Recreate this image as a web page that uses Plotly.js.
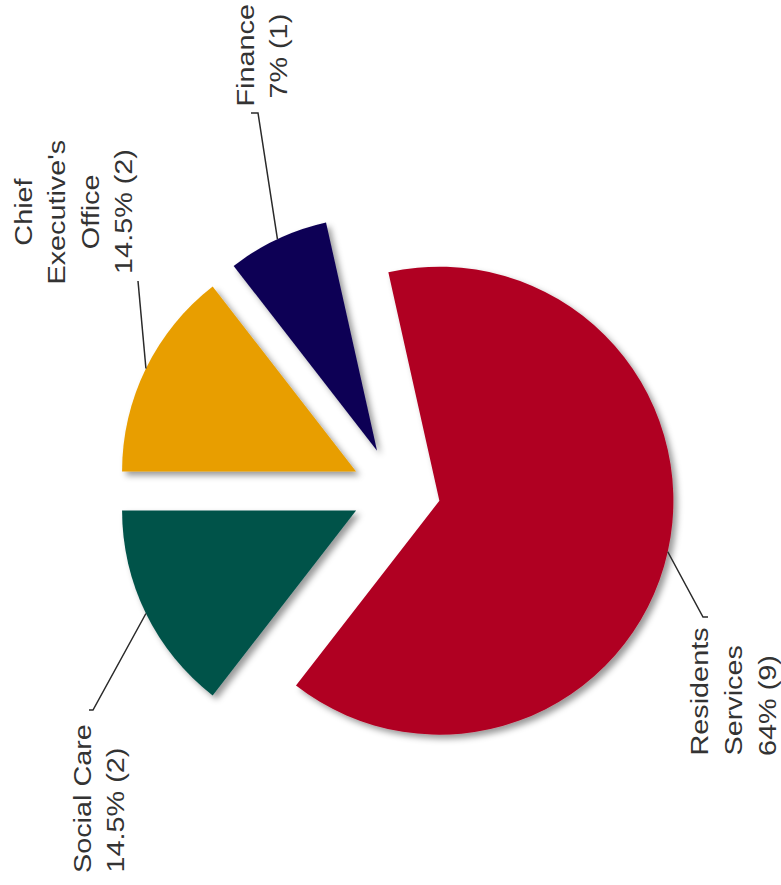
<!DOCTYPE html>
<html><head><meta charset="utf-8">
<script src="https://cdn.plot.ly/plotly-3.0.1.min.js"></script>
<style>html,body{margin:0;padding:0;background:#fff}#chart{width:781px;height:885px}</style>
</head><body><div id="chart"></div>
<script>
// ---- data ----
const categories = ['Residents<br>Services', 'Social Care', "Chief<br>Executive's<br>Office", 'Finance'];
const shareValues = [64, 14.5, 14.5, 7];
const shareLabels = ['64%', '14.5%', '14.5%', '7%'];
const counts = [9, 2, 2, 1];
const sliceColors = ['#B00024', '#00524A', '#E89E00', '#0F0055'];

// ---- layout settings ----
const W = 781, H = 885;
const pieGeom = {cx: 396, cy: 491, r: 234, pull: 0.19, rotation: -12.6};
const labelPlacement = [
  {x: 700, y: 758, anchor: 'bottom', elbow: [703, 617], end: [708, 617]},
  {x: 82,  y: 875, anchor: 'bottom', elbow: [93, 710],  end: [89, 710]},
  {x: 23,  y: 212, anchor: 'middle', elbow: [138, 281], end: [138, 281]},
  {x: 245, y: 56,  anchor: 'middle', elbow: [258, 113], end: [251, 113]}
];
const labelFont = {family: '"Liberation Sans", Arial, sans-serif', size: 24, color: '#333333'};
const lineGap = 33.5, stretch = 1.2;

const px = (x) => x / W, py = (y) => 1 - y / H;
const half = pieGeom.r * (1 + pieGeom.pull);

const trace = {
  type: 'pie',
  labels: categories,
  values: shareValues,
  sort: false,
  direction: 'clockwise',
  rotation: pieGeom.rotation,
  pull: shareValues.map(() => pieGeom.pull),
  marker: {colors: sliceColors, line: {width: 0}},
  textinfo: 'none',
  hoverinfo: 'none',
  domain: {
    x: [(pieGeom.cx - half) / W, (pieGeom.cx + half) / W],
    y: [(H - pieGeom.cy - half) / H, (H - pieGeom.cy + half) / H]
  }
};

// leader lines from slice mid-angle arc points
const total = shareValues.reduce((a, b) => a + b, 0);
let cum = 0;
const shapes = [];
const annotations = [];
const annMeta = [];
shareValues.forEach((v, i) => {
  const mid = (pieGeom.rotation + (cum + v / 2) / total * 360) * Math.PI / 180;
  cum += v;
  const dx = Math.sin(mid), dy = -Math.cos(mid);
  const ax = pieGeom.cx + (1 + pieGeom.pull) * pieGeom.r * dx;
  const ay = pieGeom.cy + (1 + pieGeom.pull) * pieGeom.r * dy;
  const lp = labelPlacement[i];
  shapes.push({
    type: 'path', xref: 'paper', yref: 'paper',
    path: `M ${px(ax)} ${py(ay)} L ${px(lp.elbow[0])} ${py(lp.elbow[1])} L ${px(lp.end[0])} ${py(lp.end[1])}`,
    line: {color: '#2a2a2a', width: 1.5}
  });
  const lines = (categories[i] + '<br>' + shareLabels[i] + ' (' + counts[i] + ')').split('<br>');
  lines.forEach((t, k) => {
    annotations.push({
      xref: 'paper', yref: 'paper',
      x: px(lp.x + k * lineGap), y: py(lp.y),
      xanchor: 'center', yanchor: lp.anchor,
      text: t, showarrow: false, textangle: -90,
      font: labelFont
    });
    annMeta.push(lp.anchor);
  });
});

const layout = {
  width: W, height: H,
  margin: {l: 0, r: 0, t: 0, b: 0},
  paper_bgcolor: '#ffffff',
  showlegend: false,
  shapes: shapes,
  annotations: annotations
};

Plotly.newPlot('chart', [trace], layout, {staticPlot: true, displayModeBar: false}).then(() => {
  try {
    const ns = 'http://www.w3.org/2000/svg';
    const svg = document.querySelector('#chart .main-svg');
    let defs = svg.querySelector('defs');
    if (!defs) { defs = document.createElementNS(ns, 'defs'); svg.insertBefore(defs, svg.firstChild); }
    const f = document.createElementNS(ns, 'filter');
    f.setAttribute('id', 'pieShadow');
    f.setAttribute('x', '-20%'); f.setAttribute('y', '-20%');
    f.setAttribute('width', '140%'); f.setAttribute('height', '140%');
    const ds = document.createElementNS(ns, 'feDropShadow');
    ds.setAttribute('dx', '4'); ds.setAttribute('dy', '4');
    ds.setAttribute('stdDeviation', '3');
    ds.setAttribute('flood-color', '#000');
    ds.setAttribute('flood-opacity', '0.4');
    f.appendChild(ds);
    defs.appendChild(f);
    document.querySelectorAll('#chart .pielayer .slice path.surface').forEach(p => p.setAttribute('filter', 'url(#pieShadow)'));
  } catch (e) {}
  try {
    document.querySelectorAll('#chart g.annotation').forEach(g => {
      const idx = +g.getAttribute('data-index');
      const t = g.querySelector('text.annotation-text');
      if (!t) return;
      const b = t.getBBox();
      const pivot = annMeta[idx] === 'bottom' ? b.x : b.x + b.width / 2;
      t.setAttribute('transform', `translate(${pivot * (1 - stretch)},0) scale(${stretch},1)`);
    });
  } catch (e) {}
});
</script>
</body></html>
